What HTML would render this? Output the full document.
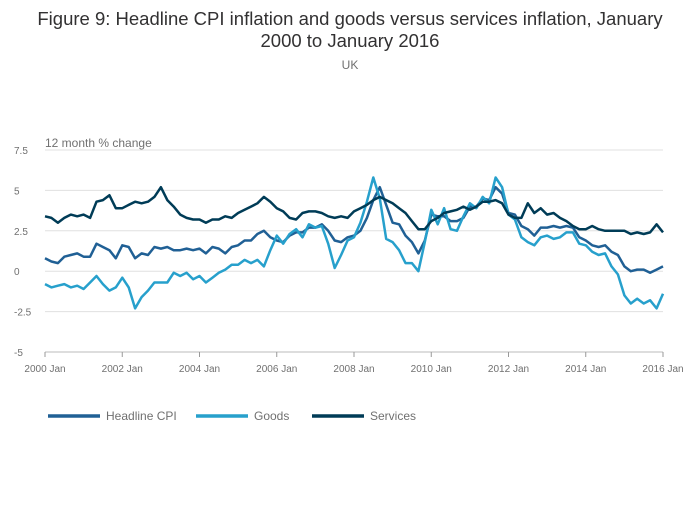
<!DOCTYPE html>
<html><head><meta charset="utf-8"><style>
body{margin:0;background:#fff;font-family:"Liberation Sans",sans-serif;}
svg text{font-family:"Liberation Sans",sans-serif;}
</style></head><body>
<svg id="chart" width="700" height="502">
<text x="350" y="25" text-anchor="middle" font-size="18.5" fill="#323132">Figure 9: Headline CPI inflation and goods versus services inflation, January</text>
<text x="350" y="47" text-anchor="middle" font-size="18.5" fill="#323132">2000 to January 2016</text>
<text x="350" y="69" text-anchor="middle" font-size="12" fill="#707070">UK</text>
<text x="45" y="147" font-size="12" fill="#707070">12 month % change</text>
<g id="grid"></g><g id="xaxis"></g><g id="lines"></g>
<g id="legend"></g>
</svg>
<script>
const yTicks=[7.5,5,2.5,0,-2.5,-5];
const yTickLabels=["7.5","5","2.5","0","-2.5","-5"];
const xTickYears=[2000,2002,2004,2006,2008,2010,2012,2014,2016];
const xTickLabels=["2000 Jan","2002 Jan","2004 Jan","2006 Jan","2008 Jan","2010 Jan","2012 Jan","2014 Jan","2016 Jan"];
const seriesNames=["Headline CPI","Goods","Services"];
// bimonthly values (Jan, Mar, May, Jul, Sep, Nov) from Jan 2000 to Jan 2016
const headline=[0.8,0.6,0.5,0.9,1.0,1.1, 0.9,0.9,1.7,1.5,1.3,0.8, 1.6,1.5,0.8,1.1,1.0,1.5, 1.4,1.5,1.3,1.3,1.4,1.3, 1.4,1.1,1.5,1.4,1.1,1.5, 1.6,1.9,1.9,2.3,2.5,2.1, 1.9,1.8,2.2,2.4,2.4,2.7, 2.7,2.9,2.5,1.9,1.8,2.1, 2.2,2.5,3.3,4.4,5.2,4.1, 3.0,2.9,2.2,1.8,1.1,1.9, 3.5,3.4,3.4,3.1,3.1,3.3, 4.0,4.0,4.5,4.4,5.2,4.8, 3.6,3.5,2.8,2.6,2.2,2.7, 2.7,2.8,2.7,2.8,2.7,2.1, 1.9,1.6,1.5,1.6,1.2,1.0, 0.3,0.0,0.1,0.1,-0.1,0.1, 0.3];
const goods=[-0.8,-1.0,-0.9,-0.8,-1.0,-0.9, -1.1,-0.7,-0.3,-0.8,-1.2,-1.0, -0.4,-1.0,-2.3,-1.6,-1.2,-0.7, -0.7,-0.7,-0.1,-0.3,-0.1,-0.5, -0.3,-0.7,-0.4,-0.1,0.1,0.4, 0.4,0.7,0.5,0.7,0.3,1.3, 2.2,1.7,2.3,2.6,2.1,2.9, 2.7,2.8,1.7,0.2,1.0,1.9, 2.1,3.0,4.3,5.8,4.5,2.0, 1.8,1.3,0.5,0.5,0.0,1.8, 3.8,2.9,3.9,2.6,2.5,3.4, 4.2,3.9,4.6,4.2,5.8,5.2, 3.5,3.2,2.1,1.8,1.6,2.1, 2.2,2.0,2.1,2.4,2.4,1.7, 1.6,1.2,1.0,1.1,0.3,-0.2, -1.5,-2.0,-1.7,-2.0,-1.8,-2.3, -1.4];
const services=[3.4,3.3,3.0,3.3,3.5,3.4, 3.5,3.3,4.3,4.4,4.7,3.9, 3.9,4.1,4.3,4.2,4.3,4.6, 5.2,4.4,4.0,3.5,3.3,3.2, 3.2,3.0,3.2,3.2,3.4,3.3, 3.6,3.8,4.0,4.2,4.6,4.3, 3.9,3.7,3.3,3.2,3.6,3.7, 3.7,3.6,3.4,3.3,3.4,3.3, 3.7,3.9,4.1,4.4,4.6,4.4, 4.2,3.9,3.6,3.1,2.6,2.6, 3.1,3.3,3.6,3.7,3.8,4.0, 3.8,4.0,4.3,4.3,4.4,4.2, 3.5,3.3,3.3,4.2,3.6,3.9, 3.5,3.6,3.3,3.1,2.8,2.6, 2.6,2.8,2.6,2.5,2.5,2.5, 2.5,2.3,2.4,2.3,2.4,2.9, 2.4];
const colors=["#206095","#27a0cc","#003c57"];
const NS="http://www.w3.org/2000/svg";
const x0=45,x1=663,yTop=150,yBot=352;
function xScale(t){return x0+(t-2000)/16*(x1-x0);}
function yScale(v){return yBot-(v+5)/12.5*(yBot-yTop);}
function mk(tag,attrs,parent){const e=document.createElementNS(NS,tag);for(const k in attrs)e.setAttribute(k,attrs[k]);parent.appendChild(e);return e;}
const grid=document.getElementById('grid');
yTicks.forEach((v,i)=>{
  const l=mk('line',{x1:x0,x2:x1,y1:yScale(v),y2:yScale(v),stroke:v===-5?'#bbb':'#e0e0e0','stroke-width':1},grid);
  
  
  const t=mk('text',{x:14,y:yScale(v)+4,'font-size':10,fill:'#707070'},grid);
  t.textContent=yTickLabels[i];
  
  
});
const xa=document.getElementById('xaxis');
xTickYears.forEach((yr,i)=>{
  const tk=mk('line',{x1:xScale(yr),x2:xScale(yr),y1:yBot,y2:yBot+5,stroke:'#999'},xa);
  
  
  const t=mk('text',{x:xScale(yr),y:372,'font-size':10,fill:'#707070','text-anchor':'middle'},xa);
  t.textContent=xTickLabels[i];
  
  
});
const lg=document.getElementById('lines');
[headline,goods,services].forEach((arr,s)=>{
  const d=arr.map((v,i)=>(i?'L':'M')+xScale(2000+i/6).toFixed(1)+','+yScale(v).toFixed(1)).join('');
  const p=mk('path',{d:d,fill:'none',stroke:colors[s],'stroke-width':2.5,'stroke-linejoin':'round'},lg);
  
  
});
const leg=document.getElementById('legend');
const legX=[48,196,312];
seriesNames.forEach((n,s)=>{
  const g=mk('g',{},leg);
  
  
  mk('line',{x1:legX[s],x2:legX[s]+52,y1:416,y2:416,stroke:colors[s],'stroke-width':3.5},g);
  const t=mk('text',{x:legX[s]+58,y:420,'font-size':12,fill:'#707070'},g);
  t.textContent=n;
});
</script>
</body></html>
